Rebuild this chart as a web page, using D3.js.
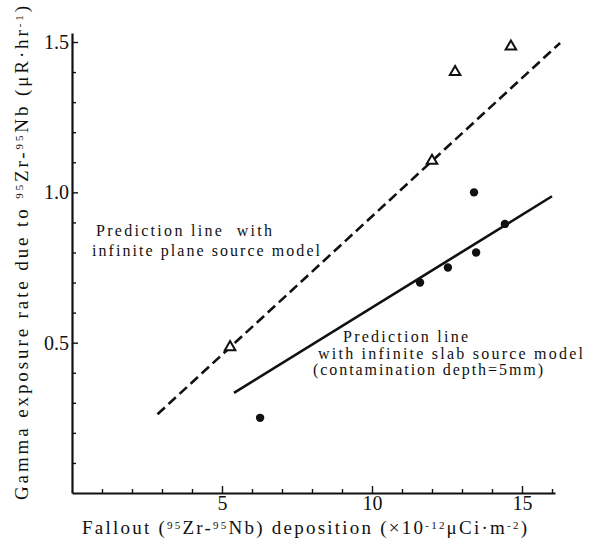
<!DOCTYPE html>
<html>
<head>
<meta charset="utf-8">
<script src="https://cdn.jsdelivr.net/npm/d3@7"></script>
<style>
  body { margin: 0; background: #fff; }
  svg text { font-family: "Liberation Serif", "Times New Roman", Tinos, "DejaVu Serif", "Noto Serif", serif !important; fill: #111; }
</style>
</head>
<body>
<div id="chart"></div>
<script>
// measured points (open triangles = plane, filled dots = slab)
const planeX = [5.27, 12.0, 12.77, 14.63];
const planeY = [0.485, 1.105, 1.40, 1.485];
const slabX = [6.27, 11.6, 12.53, 13.4, 13.47, 14.43];
const slabY = [0.25, 0.70, 0.75, 1.0, 0.80, 0.895];

// prediction lines (end points)
const planeLineX = [2.85, 16.27];
const planeLineY = [0.262, 1.497];
const slabLineX = [5.4, 16.0];
const slabLineY = [0.333, 0.987];

const xMajor = [5, 10, 15];
const xMinor = [1, 2, 3, 4, 6, 7, 8, 9, 11, 12, 13, 14, 16];
const yMajor = [0.5, 1.0, 1.5];
const yMinor = [0.1, 0.2, 0.3, 0.4, 0.6, 0.7, 0.8, 0.9, 1.1, 1.2, 1.3, 1.4];

const width = 594, height = 551;
const serif = '"Liberation Serif", "Times New Roman", Tinos, "DejaVu Serif", serif';

const svg = d3.select('#chart')
  .append('svg')
  .attr('width', width)
  .attr('height', height);

const x = d3.scaleLinear().domain([0, 16.1]).range([72, 555]);
const y = d3.scaleLinear().domain([0, 1.53]).range([493, 33]);

// y axis: minor ticks pointing inward
svg.append('g')
  .attr('transform', 'translate(72,0)')
  .call(d3.axisLeft(y).tickValues(yMinor).tickSizeInner(-4).tickSizeOuter(0).tickFormat(''))
  .call(g => g.select('.domain').attr('stroke-width', 2.2).attr('stroke', '#111'));

svg.append('g')
  .attr('transform', 'translate(72,0)')
  .attr('font-family', serif)
  .call(d3.axisLeft(y).tickValues(yMajor).tickSizeInner(-6).tickSizeOuter(0).tickPadding(3)
    .tickFormat(d3.format('.1f')))
  .call(g => g.select('.domain').remove())
  .call(g => g.selectAll('text').attr('font-size', 20).attr('font-family', serif));

// x axis: ticks pointing up
svg.append('g')
  .attr('transform', 'translate(0,493)')
  .call(d3.axisBottom(x).tickValues(xMinor).tickSizeInner(-4).tickSizeOuter(0).tickFormat(''))
  .call(g => g.select('.domain').attr('stroke-width', 2).attr('stroke', '#111'));

svg.append('g')
  .attr('transform', 'translate(0,493)')
  .attr('font-family', serif)
  .call(d3.axisBottom(x).tickValues(xMajor).tickSizeInner(-7).tickSizeOuter(0).tickPadding(3)
    .tickFormat(d3.format('d')))
  .call(g => g.select('.domain').remove())
  .call(g => g.selectAll('text').attr('font-size', 20).attr('font-family', serif));

svg.selectAll('.tick line').attr('stroke', '#111').attr('stroke-width', 1.4);

// prediction lines
const line = d3.line().x(d => x(d[0])).y(d => y(d[1]));

svg.append('path')
  .datum(d3.zip(planeLineX, planeLineY))
  .attr('d', line)
  .attr('fill', 'none')
  .attr('stroke', '#111')
  .attr('stroke-width', 2.6)
  .attr('stroke-dasharray', '10,5');

svg.append('path')
  .datum(d3.zip(slabLineX, slabLineY))
  .attr('d', line)
  .attr('fill', 'none')
  .attr('stroke', '#111')
  .attr('stroke-width', 2.6);

// points
svg.selectAll('.dot')
  .data(d3.zip(slabX, slabY))
  .join('circle')
  .attr('class', 'dot')
  .attr('cx', d => x(d[0]))
  .attr('cy', d => y(d[1]))
  .attr('r', 4.2)
  .attr('fill', '#111');

const tri = d3.symbol().type(d3.symbolTriangle).size(48);
svg.selectAll('.tri')
  .data(d3.zip(planeX, planeY))
  .join('path')
  .attr('class', 'tri')
  .attr('transform', d => `translate(${x(d[0])},${y(d[1])})`)
  .attr('d', tri)
  .attr('fill', 'white')
  .attr('stroke', '#111')
  .attr('stroke-width', 2);

// annotations
function label(xp, yp, str, len) {
  svg.append('text')
    .attr('x', xp)
    .attr('y', yp)
    .attr('font-family', serif)
    .attr('font-size', 16)
    .attr('textLength', len)
    .attr('lengthAdjust', 'spacing')
    .style('white-space', 'pre')
    .text(str);
}
label(96, 236, 'Prediction line  with', 176);
label(92, 256, 'infinite plane source model', 228);
label(343, 342, 'Prediction line', 125);
label(318, 359, 'with infinite slab source model', 265);
label(313, 375, '(contamination depth=5mm)', 230);

// axis titles with superscripts
function rich(g, parts) {
  parts.forEach(p => {
    const t = g.append('tspan').text(p[0]);
    if (p[1]) t.attr('font-size', 11).attr('baseline-shift', '45%');
  });
}

const xt = svg.append('text')
  .attr('x', 82)
  .attr('y', 534)
  .attr('font-family', serif)
  .attr('font-size', 19)
  .attr('textLength', 445)
  .attr('lengthAdjust', 'spacing');
rich(xt, [['Fallout ('], ['95', 1], ['Zr-'], ['95', 1], ['Nb)  deposition (×10'], ['-12', 1], ['μCi·m'], ['-2', 1], [')']]);

const yt = svg.append('text')
  .attr('transform', 'translate(28,500) rotate(-90)')
  .attr('font-family', serif)
  .attr('font-size', 19)
  .attr('textLength', 494)
  .attr('lengthAdjust', 'spacing');
rich(yt, [['Gamma exposure rate due to '], ['95', 1], ['Zr-'], ['95', 1], ['Nb  (μR·hr'], ['-1', 1], [')']]);
</script>
</body>
</html>
